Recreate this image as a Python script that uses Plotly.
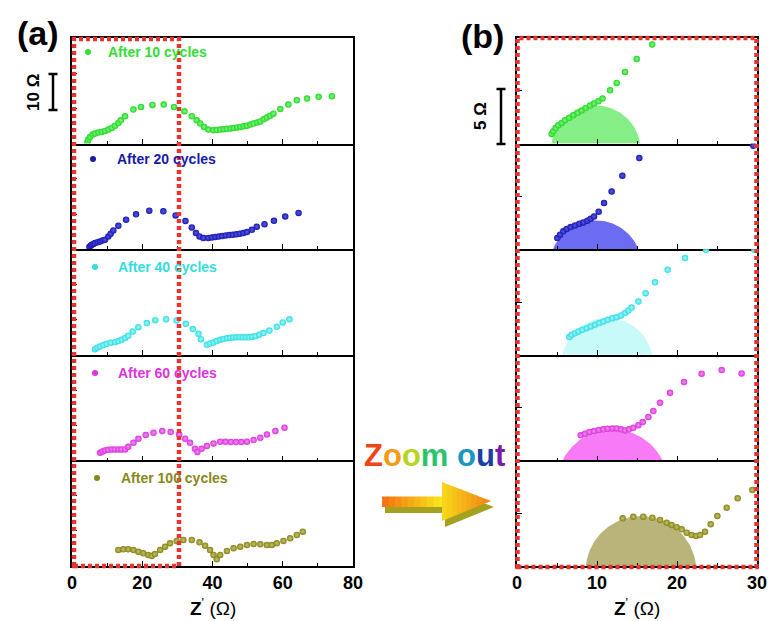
import math
import plotly.graph_objects as go

W, H = 771, 621

# ---------------- data ----------------
labels = ["After 10 cycles", "After 20 cycles", "After 40 cycles", "After 60 cycles", "After 100 cycles"]
marker_colors = ["#22d822", "#1818b0", "#30dde2", "#dc34dc", "#85831a"]
center_colors = ["#8af58a", "#5a5ae8", "#a8f8f8", "#f490f4", "#c8c46a"]
label_colors = ["#33dd33", "#1a1aaa", "#33dddd", "#dd33dd", "#88881a"]
fill_colors = ["#86ee86", "#6c6cf2", "#c8fafa", "#f77af7", "#b9b47a"]

# panel (a): full spectra  (Z' in ohm, -Z'' in ohm)
a_z_10 = [4.37, 4.65, 5.13, 5.89, 6.55, 7.5, 8.45, 9.4, 10.35, 11.3, 12.25, 13.2, 13.87, 15.1, 17.47, 19.66,
          22.9, 26.1, 29.06, 32.0, 34.1, 35.5, 36.5, 37.6, 38.8, 40.26, 41.2, 42.2, 43.2, 44.1, 45.1, 46.0,
          47.0, 47.9, 48.9, 49.8, 50.8, 51.7, 52.7, 53.6, 54.6, 55.5, 56.4, 57.35, 59.3, 61.6, 64.0, 66.9,
          70.2, 74.0]
a_y_10 = [0.38, 1.14, 1.9, 2.56, 2.84, 3.13, 3.31, 3.6, 3.98, 4.45, 5.1, 5.87, 6.6, 7.76, 9.66, 10.4,
          11.0, 11.08, 10.4, 9.2, 7.76, 6.63, 5.68, 4.73, 3.98, 3.79, 3.85, 3.98, 4.1, 4.2, 4.3, 4.45,
          4.6, 4.73, 4.9, 5.1, 5.4, 5.68, 6.0, 6.3, 6.9, 7.4, 7.9, 8.5, 9.85, 11.08, 12.3, 12.8,
          13.3, 13.45]

a_z_20 = [4.94, 5.3, 5.6, 6.1, 6.55, 7.3, 7.98, 8.7, 9.4, 10.35, 11.0, 11.77, 13.2, 15.4, 18.23, 22.0,
          26.0, 29.5, 32.3, 34.1, 35.3, 36.3, 37.4, 38.8, 39.8, 40.8, 41.8, 42.8, 43.8, 44.8, 45.8, 46.8,
          47.8, 48.8, 49.8, 51.2, 52.6, 54.8, 57.5, 60.7, 64.5]
a_y_20 = [0.6, 1.0, 1.28, 1.5, 1.75, 2.0, 2.2, 2.45, 2.7, 3.64, 4.4, 5.34, 6.68, 8.38, 9.9, 10.94,
          10.75, 9.6, 8.0, 6.2, 4.6, 3.64, 3.17, 3.17, 3.3, 3.45, 3.6, 3.75, 3.9, 4.0, 4.1, 4.25,
          4.4, 4.6, 4.9, 5.5, 6.4, 7.1, 8.1, 9.3, 10.3]

a_z_40 = [6.55, 7.2, 7.98, 8.9, 9.88, 11.0, 12.25, 13.2, 14.15, 15.1, 16.0, 17.3, 18.9, 21.3, 23.7, 26.8,
          29.8, 32.4, 34.4, 36.0, 36.7, 38.4, 39.3, 40.26, 41.2, 42.2, 43.1, 44.1, 45.0, 45.9, 46.8, 47.7,
          48.6, 49.5, 50.4, 51.3, 52.2, 53.3, 54.5, 56.2, 58.3, 60.0, 61.9]
a_y_40 = [1.6, 2.0, 2.37, 2.8, 3.13, 3.4, 3.6, 3.9, 4.26, 4.8, 5.4, 6.63, 7.86, 9.0, 9.85, 10.1,
          9.75, 8.8, 7.3, 5.97, 4.45, 2.84, 3.2, 3.5, 3.9, 4.26, 4.5, 4.73, 4.85, 4.95, 5.0, 5.0,
          5.0, 5.0, 5.0, 5.1, 5.3, 5.7, 6.16, 6.9, 8.0, 9.2, 10.1]

a_z_60 = [7.98, 8.7, 9.4, 10.3, 11.3, 12.2, 13.2, 14.1, 15.1, 16.0, 17.5, 18.9, 21.0, 23.2, 25.7, 28.1,
          30.5, 32.2, 33.6, 35.0, 35.7, 36.9, 38.4, 40.3, 42.2, 43.7, 45.2, 46.7, 48.2, 49.8, 51.7, 53.6,
          55.5, 57.9, 60.5]
a_y_60 = [2.18, 2.55, 2.84, 3.0, 3.13, 3.13, 3.13, 3.13, 3.13, 3.88, 5.0, 6.16, 7.2, 7.86, 8.33, 8.05,
          7.39, 6.16, 5.0, 3.3, 2.37, 3.3, 4.07, 4.83, 5.3, 5.3, 5.25, 5.2, 5.2, 5.3, 5.77, 6.44,
          7.39, 8.33, 9.28]

a_z_100 = [13.2, 14.6, 16.0, 17.5, 18.9, 20.3, 21.7, 22.7, 23.6, 25.1, 26.5, 27.9, 29.8, 31.7, 34.1, 36.3,
           37.9, 39.3, 40.3, 41.2, 42.2, 44.1, 46.0, 47.9, 49.8, 51.7, 53.6, 55.5, 56.9, 58.3, 60.2, 62.1,
           64.0, 65.7]
a_y_100 = [4.55, 4.73, 4.73, 4.55, 4.07, 3.6, 3.13, 2.84, 3.4, 4.55, 5.5, 6.44, 7.1, 7.39, 7.39, 6.72,
           5.78, 4.55, 3.13, 1.89, 3.13, 4.26, 5.02, 5.5, 5.97, 6.25, 6.16, 5.97, 5.97, 6.44, 7.1, 7.86,
           8.8, 9.75]

# panel (b): high-frequency region
b_z_10 = [4.33, 4.54, 4.83, 5.17, 5.58, 6.0, 6.5, 7.04, 7.58, 8.08, 8.58, 9.13, 9.63, 10.17, 10.7, 11.63,
          12.46, 13.5, 14.96, 16.9]
b_y_10 = [0.92, 1.17, 1.48, 1.74, 1.96, 2.21, 2.43, 2.69, 2.91, 3.13, 3.38, 3.6, 3.79, 4.01, 4.26, 5.05,
          5.75, 6.79, 8.02, 9.38]

b_z_20 = [5.04, 5.38, 5.79, 6.21, 6.71, 7.25, 7.79, 8.29, 8.79, 9.21, 9.63, 10.21, 10.88, 11.83, 13.17, 15.29,
          29.54]
b_y_20 = [1.06, 1.38, 1.69, 1.92, 2.1, 2.25, 2.42, 2.54, 2.7, 2.89, 3.1, 3.55, 4.38, 5.47, 6.96, 8.64,
          9.8]

b_z_40 = [6.54, 6.83, 7.25, 7.67, 8.17, 8.71, 9.21, 9.75, 10.29, 10.79, 11.33, 11.92, 12.46, 13.0, 13.5, 13.92,
          14.33, 15.17, 16.08, 17.25, 18.83, 21.0, 23.63, 29.67]
b_y_40 = [1.68, 1.9, 2.05, 2.21, 2.37, 2.52, 2.69, 2.84, 3.0, 3.16, 3.31, 3.47, 3.56, 3.73, 3.95, 4.2,
          4.48, 5.05, 5.84, 6.86, 8.05, 9.16, 9.95, 9.95]

b_z_60 = [7.96, 8.5, 9.04, 9.63, 10.21, 10.79, 11.33, 11.92, 12.46, 13.0, 13.5, 14.0, 14.54, 15.17, 15.71, 16.42,
          17.04, 17.88, 19.13, 20.88, 23.08, 25.58, 28.08]
b_y_60 = [2.37, 2.52, 2.69, 2.78, 2.88, 2.94, 3.0, 3.03, 3.03, 2.94, 2.84, 2.94, 3.09, 3.34, 3.63, 4.1,
          4.67, 5.46, 6.41, 7.42, 8.21, 8.55, 8.24]

b_z_100 = [13.21, 14.54, 15.79, 16.92, 17.88, 18.71, 19.33, 19.96, 20.58, 21.21, 21.83, 22.38, 22.88, 23.5, 24.21,
           25.04, 26.21, 27.58, 29.42]
b_y_100 = [4.51, 4.67, 4.67, 4.57, 4.36, 4.1, 3.89, 3.67, 3.47, 3.16, 2.94, 2.84, 2.94, 3.25, 3.95,
           4.74, 5.52, 6.41, 7.2]

# fitted high-frequency arcs in panel (b): left foot, right foot, height (ohm)
arc_left = [4.3, 4.5, 5.7, 5.7, 8.6]
arc_right = [15.4, 15.2, 16.9, 18.2, 22.4]
arc_height = [3.6, 2.73, 3.48, 2.94, 4.73]

a_x = [a_z_10, a_z_20, a_z_40, a_z_60, a_z_100]
a_y = [a_y_10, a_y_20, a_y_40, a_y_60, a_y_100]
b_x = [b_z_10, b_z_20, b_z_40, b_z_60, b_z_100]
b_y = [b_y_10, b_y_20, b_y_40, b_y_60, b_y_100]

a_xrange, a_yrange = [0, 80], [0, 30]
b_xrange, b_yrange = [0, 30], [0, 10]
a_xticks = [0, 20, 40, 60, 80]
b_xticks = [0, 10, 20, 30]

# ---------------- layout helpers ----------------
def px(x):
    return x / W


def py(y):
    return 1 - y / H


A_L, A_R = 72, 353
B_L, B_R = 517, 757
TOP, BOT = 38, 566
ROW_H = (BOT - TOP) / 5
SX = (B_R - B_L) / (b_xrange[1] - b_xrange[0])
SY = ROW_H / (b_yrange[1] - b_yrange[0])

fig = go.Figure()
layout = {}
FONT = "Arial, Liberation Sans, sans-serif"
LW = 1.6


def ax_name(kind, idx):
    return kind + ("axis" if idx == 1 else f"axis{idx}")


def ref(kind, idx):
    return kind if idx == 1 else f"{kind}{idx}"


def arc_points(l, r, h, n=80):
    w = (r - l) / 2 * SX
    hp = h * SY
    R = (hp * hp + w * w) / (2 * hp)
    yc = hp - R
    t0 = math.asin(max(-1.0, min(1.0, -yc / R)))
    cx = (l + r) / 2
    xs, ys = [], []
    for i in range(n + 1):
        t = t0 + (math.pi - 2 * t0) * i / n
        xs.append(cx + R * math.cos(t) / SX)
        ys.append(max(0.0, (yc + R * math.sin(t)) / SY))
    return xs, ys


for r in range(5):
    top = TOP + r * ROW_H
    bot = top + ROW_H
    ydom = [py(bot), py(top)]
    for c in range(2):
        idx = 2 * r + c + 1
        xr = ref("x", idx)
        yr = ref("y", idx)
        if c == 0:
            xdom = [px(A_L), px(A_R)]
            xrange, yrange = a_xrange, a_yrange
            tickv, minor_dt, ydt = a_xticks, 10, 10
        else:
            xdom = [px(B_L), px(B_R)]
            xrange, yrange = b_xrange, b_yrange
            tickv, minor_dt, ydt = b_xticks, 5, 5
        layout[ax_name("x", idx)] = dict(
            domain=xdom, range=xrange, anchor=yr, showgrid=False, zeroline=False,
            showline=True, linecolor="black", linewidth=LW, mirror=(r == 0), automargin=False,
            ticks="inside", ticklen=5, tickwidth=1.4, tickcolor="black",
            tickmode="array", tickvals=tickv, ticktext=[f"<b>{v}</b>" for v in tickv],
            minor=dict(dtick=minor_dt, tick0=0, ticks="inside", ticklen=3, tickwidth=1.2, tickcolor="black"),
            showticklabels=(r == 4),
            tickfont=dict(family=FONT, size=18, color="black"),
        )
        layout[ax_name("y", idx)] = dict(
            domain=ydom, range=yrange, anchor=xr, showgrid=False, zeroline=False,
            showline=True, linecolor="black", linewidth=LW, mirror=True, automargin=False,
            ticks="inside", ticklen=5, tickwidth=1.4, tickcolor="black",
            dtick=ydt, tick0=0, showticklabels=False,
        )
        if c == 1:
            ax_, ay_ = arc_points(arc_left[r], arc_right[r], arc_height[r])
            fig.add_trace(go.Scatter(
                x=ax_, y=ay_, mode="lines", fill="toself", fillcolor=fill_colors[r],
                line=dict(width=0, color=fill_colors[r]), xaxis=xr, yaxis=yr,
                hoverinfo="skip", showlegend=False))
            xs, ys = b_x[r], b_y[r]
        else:
            xs, ys = a_x[r], a_y[r]
        fig.add_trace(go.Scatter(
            x=xs, y=ys, mode="markers", xaxis=xr, yaxis=yr, showlegend=False,
            name=labels[r],
            marker=dict(size=6.5, color=marker_colors[r], line=dict(width=0),
                        gradient=dict(type="radial", color=center_colors[r]))))

shapes = []
annotations = []


def note(text, x, y, size, color="black", xanchor="center", angle=0):
    annotations.append(dict(text=text, xref="paper", yref="paper", x=px(x), y=py(y),
                            xanchor=xanchor, yanchor="middle", showarrow=False, textangle=angle,
                            font=dict(family=FONT, size=size, color=color)))


# series labels with symbol
lab_dot_x = [88, 93, 95, 95, 97]
lab_txt_x = [106, 115, 116, 116, 119]
lab_y = [52, 159, 267, 373, 478]
for i in range(5):
    shapes.append(dict(type="circle", xref="paper", yref="paper",
                       x0=px(lab_dot_x[i] - 3), x1=px(lab_dot_x[i] + 3),
                       y0=py(lab_y[i] + 3), y1=py(lab_y[i] - 3),
                       fillcolor=label_colors[i], line=dict(width=0)))
    note(f"<b>{labels[i]}</b>", lab_txt_x[i], lab_y[i], 14, label_colors[i], xanchor="left")

# red dotted zoom boxes
RED = "#e8342e"
for (x0, y0, x1, y1) in [(74, 39, 179, 566), (517.5, 38, 756.5, 567)]:
    shapes.append(dict(type="rect", xref="paper", yref="paper", x0=px(x0), x1=px(x1),
                       y0=py(y1), y1=py(y0), line=dict(color=RED, width=4.5, dash="4px,3px"),
                       fillcolor="rgba(0,0,0,0)", layer="above"))

# scale bars
for (bx, yt, yb) in [(53, 74, 110), (501, 89, 144)]:
    shapes.append(dict(type="line", xref="paper", yref="paper", x0=px(bx), x1=px(bx),
                       y0=py(yt), y1=py(yb), line=dict(color="black", width=2.5)))
    for yy in (yt, yb):
        shapes.append(dict(type="line", xref="paper", yref="paper", x0=px(bx - 4.5), x1=px(bx + 4.5),
                           y0=py(yy), y1=py(yy), line=dict(color="black", width=2.5)))
note("<b>10 Ω</b>", 33, 93, 17, angle=-90)
note("<b>5 Ω</b>", 481, 116, 17, angle=-90)

# panel letters
note("<b>(a)</b>", 38, 33, 34)
note("<b>(b)</b>", 482, 36, 34)

# axis titles
for cx in (213, 637):
    note("<b>Z</b><sup>'</sup> (Ω)", cx, 607, 19)

# "Zoom out" rainbow text
zoom_letters = ["Z", "o", "o", "m", " ", "o", "u", "t"]
zoom_cols = ["#f0441c", "#f59a18", "#b8d41e", "#2cc46a", "#ffffff", "#1a96c4", "#1c3ea8", "#7a1caa"]
zt = "".join(f'<span style="color:{c}">{l}</span>' if l != " " else " "
             for l, c in zip(zoom_letters, zoom_cols))
note(f"<b>{zt}</b>", 434.5, 455, 31)


# arrow
def poly(pts, color):
    d = "M " + " L ".join(f"{px(x):.5f},{py(y):.5f}" for x, y in pts) + " Z"
    return dict(type="path", xref="paper", yref="paper", path=d, fillcolor=color,
                line=dict(width=0), layer="above")


def lerp_col(c1, c2, t):
    a = [int(c1[i:i + 2], 16) for i in (1, 3, 5)]
    b = [int(c2[i:i + 2], 16) for i in (1, 3, 5)]
    return "rgb(%d,%d,%d)" % tuple(round(a[k] + (b[k] - a[k]) * t) for k in range(3))


sx0, sx1, sy0, sy1 = 382, 446, 496.5, 507
hx0, hx1, hy0, hy1, ty = 442, 491, 482, 521, 501
ox, oy = 3, 6
shadow = [(sx0 + ox, sy0 + oy), (hx0 + ox, sy0 + oy), (hx0 + ox, hy0 + oy), (hx1 + ox, ty + oy),
          (hx0 + ox, hy1 + oy), (hx0 + ox, sy1 + oy), (sx0 + ox, sy1 + oy)]
shapes.append(poly(shadow, "#a4a020"))
N = 10
for i in range(N):
    xa = sx0 + (sx1 - sx0) * i / N
    xb = sx0 + (sx1 - sx0) * (i + 1) / N + 0.6
    shapes.append(poly([(xa, sy0), (xb, sy0), (xb, sy1), (xa, sy1)],
                       lerp_col("#f47612", "#f8ea1a", i / (N - 1))))


def top_y(x):
    return hy0 + (ty - hy0) * (x - hx0) / (hx1 - hx0)


def bot_y(x):
    return hy1 + (ty - hy1) * (x - hx0) / (hx1 - hx0)


for i in range(N):
    xa = hx0 + (hx1 - hx0) * i / N
    xb = min(hx1, hx0 + (hx1 - hx0) * (i + 1) / N + 0.6)
    shapes.append(poly([(xa, top_y(xa)), (xb, top_y(xb)), (xb, bot_y(xb)), (xa, bot_y(xa))],
                       lerp_col("#f8d41a", "#f28614", i / (N - 1))))

fig.update_layout(
    width=W, height=H, margin=dict(l=0, r=0, t=0, b=0, pad=0, autoexpand=False),
    paper_bgcolor="white", plot_bgcolor="white",
    showlegend=False, shapes=shapes, annotations=annotations,
    **layout,
)

fig.write_html("out.html")
